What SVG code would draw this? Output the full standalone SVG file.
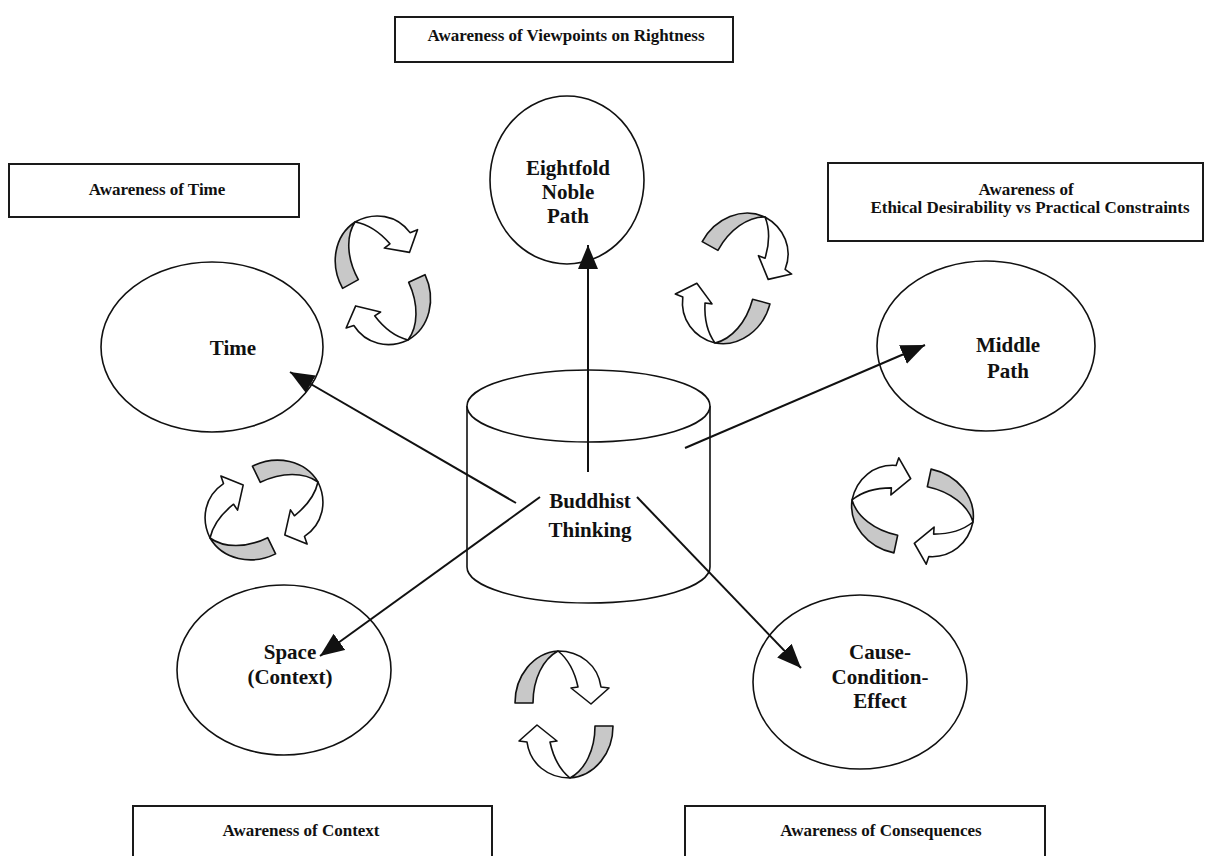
<svg xmlns="http://www.w3.org/2000/svg" xmlns:xlink="http://www.w3.org/1999/xlink" width="1209" height="856" viewBox="0 0 1209 856">
<style>
.box{fill:#fff;stroke:#1a1a1a;stroke-width:2}
.btxt{font-family:"Liberation Serif","Times New Roman",serif;font-weight:bold;font-size:17px;fill:#111;text-anchor:middle}
.ell{fill:#fff;stroke:#111;stroke-width:1.6}
.ntxt{font-family:"Liberation Serif","Times New Roman",serif;font-weight:bold;font-size:21px;fill:#111;text-anchor:middle}
.conn{stroke:#111;stroke-width:2;fill:none;marker-end:url(#ah)}
.grey{fill:#c8c8c8;stroke:#111;stroke-width:1.6;stroke-linejoin:round}
.white{fill:#fff;stroke:#111;stroke-width:1.6;stroke-linejoin:round}
</style>
<defs>
<marker id="ah" markerUnits="userSpaceOnUse" markerWidth="26" markerHeight="22" refX="24" refY="10" orient="auto">
<path d="M0,0 L24,10 L0,20 Z" fill="#111"/>
</marker>
<g id="curl">
<path class="grey" d="M -43,52 C -43,25 -25,2 0,0 C -15,8 -25,28 -25,52 Z"/>
<path class="white" d="M 0,0 C 22,0 40,14 43,36 L 51,37 L 33,53 L 13,37 L 20,36 C 17,22 10,8 0,0 Z"/>
</g>
</defs>
<rect width="1209" height="856" fill="#fff"/>

<g id="box-viewpoints"><rect class="box" x="395" y="17" width="338" height="45"/><text class="btxt" x="566" y="41">Awareness of Viewpoints on Rightness</text></g>
<g id="box-time"><rect class="box" x="9" y="164" width="290" height="53"/><text class="btxt" x="157" y="195">Awareness of Time</text></g>
<g id="box-ethical"><rect class="box" x="828" y="163" width="375" height="78"/><text class="btxt" x="1026" y="195">Awareness of</text><text class="btxt" x="1030" y="213">Ethical Desirability vs Practical Constraints</text></g>
<g id="box-context"><rect class="box" x="133" y="806" width="359" height="60"/><text class="btxt" x="301" y="836">Awareness of Context</text></g>
<g id="box-consequences"><rect class="box" x="685" y="806" width="360" height="60"/><text class="btxt" x="881" y="836">Awareness of Consequences</text></g>

<g id="node-eightfold"><ellipse class="ell" cx="567" cy="180" rx="77" ry="84"/><text class="ntxt" x="568" y="175">Eightfold</text><text class="ntxt" x="568" y="199">Noble</text><text class="ntxt" x="568" y="223">Path</text></g>
<g id="node-time"><ellipse class="ell" cx="212" cy="347" rx="111" ry="85"/><text class="ntxt" x="233" y="355">Time</text></g>
<g id="node-middle"><ellipse class="ell" cx="986" cy="346" rx="109" ry="85"/><text class="ntxt" x="1008" y="352">Middle</text><text class="ntxt" x="1008" y="378">Path</text></g>
<g id="node-space"><ellipse class="ell" cx="284" cy="670" rx="107" ry="85"/><text class="ntxt" x="290" y="659">Space</text><text class="ntxt" x="290" y="684">(Context)</text></g>
<g id="node-cause"><ellipse class="ell" cx="860" cy="682" rx="107" ry="87"/><text class="ntxt" x="880" y="659">Cause-</text><text class="ntxt" x="880" y="684">Condition-</text><text class="ntxt" x="880" y="708">Effect</text></g>

<g id="node-buddhist">
<path class="ell" d="M467,406 L467,567 A121.5,36 0 0 0 710,567 L710,406"/>
<ellipse class="ell" cx="588.5" cy="406" rx="121.5" ry="36"/>
<text class="ntxt" x="590" y="508">Buddhist</text><text class="ntxt" x="590" y="537">Thinking</text>
</g>

<g id="connectors">
<line class="conn" x1="588" y1="472" x2="588" y2="245"/>
<line class="conn" x1="516" y1="503" x2="290" y2="372"/>
<line class="conn" x1="685" y1="448" x2="925" y2="345"/>
<line class="conn" x1="540" y1="497" x2="320" y2="656"/>
<line class="conn" x1="637" y1="497" x2="801" y2="668"/>
</g>

<g id="cycle-arrows">
<use xlink:href="#curl" transform="translate(355,222) rotate(-29)"/>
<use xlink:href="#curl" transform="translate(408,340) rotate(155)"/>
<use xlink:href="#curl" transform="translate(765,217) rotate(29)"/>
<use xlink:href="#curl" transform="translate(715,343) rotate(195)"/>
<use xlink:href="#curl" transform="translate(318,482) rotate(64)"/>
<use xlink:href="#curl" transform="translate(210,538) rotate(244)"/>
<use xlink:href="#curl" transform="translate(852,500) rotate(-78)"/>
<use xlink:href="#curl" transform="translate(973,522) rotate(102)"/>
<use xlink:href="#curl" transform="translate(558,651)"/>
<use xlink:href="#curl" transform="translate(570,778) rotate(180)"/>
</g>
</svg>
